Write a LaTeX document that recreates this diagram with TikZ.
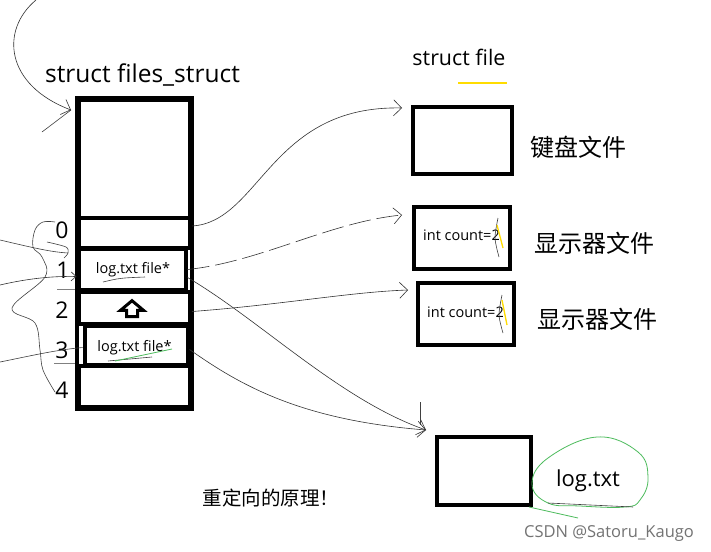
\documentclass[tikz,border=0pt]{standalone}
\usepackage{fontspec}
\setmainfont{Open Sans}
\newfontfamily\cjk{Noto Sans CJK SC}
\usepackage{tikz}
\usetikzlibrary{arrows.meta, shapes.arrows, positioning}
\tikzset{
    boxnode/.style = {draw, rectangle, line width=4pt, inner sep=0em, node distance=0em},
    textnode/.style = {draw=none, fill=none, rectangle, inner sep=0em, node distance=0em, anchor=base},
    cjknode/.style = {draw=none, fill=none, rectangle, inner sep=0em, node distance=0em,
      font=\cjk\fontsize{24}{28}\selectfont},
    idxnode/.style = {textnode, font=\fontsize{23}{26}\selectfont},
    smalltextnode/.style = {textnode, font=\fontsize{14.5}{17}\selectfont},
    connect/.style = {black!80, line width=0.6pt, -{Straight Barb[length=8pt, width=16pt]}},
    penline/.style = {black!75, line width=0.6pt},
    greenpen/.style = {pengreen, line width=0.8pt},
    yellowpen/.style = {penyellow, line width=1.3pt}
}
\definecolor{pengreen}{RGB}{76, 187, 92}
\definecolor{penyellow}{RGB}{255, 220, 0}

\begin{document}
\begin{tikzpicture}[x=1pt, y=-1pt]
\fill [white] (0,0) rectangle (711,551);
\useasboundingbox (0,0) rectangle (711,551);

\node [textnode, name=fstitle, font=\fontsize{24.5}{28}\selectfont] at (142.5,82) {struct files\_struct};
\node [boxnode, name=fsbox, minimum width=111pt, minimum height=118pt] at (134.5,159) {};
\node [boxnode, name=slot0, minimum width=111pt, minimum height=30pt, below of=fsbox, yshift=-74pt] {};
\node [boxnode, name=slot1, minimum width=107pt, minimum height=41pt, below of=fsbox, xshift=-2.5pt, yshift=-110.5pt] {};
\node [boxnode, name=slot2, minimum width=111pt, minimum height=32pt, below of=fsbox, yshift=-148.5pt] {};
\node [boxnode, name=slot3, minimum width=103pt, minimum height=39pt, below of=fsbox, xshift=1.5pt, yshift=-186.5pt] {};
\node [boxnode, name=slot4, minimum width=111pt, minimum height=41pt, below of=fsbox, yshift=-227.5pt] {};
\draw [line width=4pt] (fsbox.north west) rectangle (slot4.south east);

\node [idxnode, name=idx0] at (62,238) {0};
\node [idxnode, name=idx1] at (63,278) {1};
\node [idxnode, name=idx2] at (62,318) {2};
\node [idxnode, name=idx3] at (62,358) {3};
\node [idxnode, name=idx4] at (62,398) {4};

\node [smalltextnode, name=slot1txt] at (133,273) {log.txt file*};
\node [smalltextnode, name=slot3txt] at (134.5,351) {log.txt file*};
\node [name=uparrow, draw, line width=3pt, fill=white, single arrow, shape border rotate=90,
  minimum height=16pt, inner sep=4pt, single arrow head extend=6pt, single arrow tip angle=100] at (132,311) {};

\node [textnode, name=filetitle, font=\fontsize{21.4}{25}\selectfont] at (459,66) {struct file};
\draw [yellowpen] (458,83) -- (507,83);
\node [boxnode, name=kbd, minimum width=99pt, minimum height=67pt] at (462.5,140.5) {};
\node [boxnode, name=disp1, minimum width=96pt, minimum height=62pt, below of=kbd, xshift=-0.5pt, yshift=-97.5pt] {};
\node [boxnode, name=disp2, minimum width=96pt, minimum height=62pt, below of=disp1, xshift=4pt, yshift=-76pt] {};
\node [boxnode, name=logbox, minimum width=94pt, minimum height=68pt] at (484,471) {};

\node [smalltextnode, anchor=base west, name=count1] at (423,240) {int count=2};
\node [smalltextnode, anchor=base west, name=count2] at (427,317) {int count=2};
\node [cjknode, name=kbdlabel] at (578.5,147.5) {键盘文件};
\node [cjknode, name=displabel1] at (594,243.5) {显示器文件};
\node [cjknode, name=displabel2] at (597.5,319.5) {显示器文件};
\node [textnode, name=logtxt, font=\fontsize{22}{25}\selectfont] at (588,486) {log.txt};
\node [cjknode, name=note, font=\cjk\fontsize{19.5}{23}\selectfont] at (271,498) {重定向的原理！};
\node [textnode, name=mark, text=black!55, font=\fontsize{16.5}{19}\selectfont] at (609,537) {CSDN @Satoru\_Kaugo};

\coordinate (topstart) at (36,0);
\coordinate (lowbarb) at (42,132);
\coordinate (leftA) at (0,240);
\coordinate (leftAend) at (68,253);
\coordinate (leftB) at (0,285);
\coordinate (leftC) at (0,362);
\coordinate (logtick) at (420,402);

\draw [connect] (topstart) .. controls (0,30) and (5,85) .. ([xshift=-6pt, yshift=-12pt]fsbox.north west);
\draw [penline] (lowbarb) -- ([xshift=-6pt, yshift=-12pt]fsbox.north west);
\draw [connect] ([yshift=7pt]slot0.east) .. controls (260,222) and (270,105) .. ([xshift=-9pt, yshift=-3pt]kbd.north west);
\draw [connect, dash pattern=on 22pt off 6pt] (slot1.east) .. controls (260,262) and (330,222) .. ([xshift=-10pt, yshift=-10pt]disp1.north west);
\draw [connect] ([yshift=-4pt]slot2.east) .. controls (280,305) and (350,292) .. ([xshift=-8pt, yshift=-9pt]disp2.north west);
\draw [connect] ([yshift=-8pt]slot1.east) .. controls (260,320) and (340,400) .. ([xshift=-9pt, yshift=5pt]logbox.north west);
\draw [connect] ([yshift=-4pt]slot3.east) .. controls (240,385) and (300,420) .. ([xshift=-9pt, yshift=5pt]logbox.north west);
\draw [penline] (logtick) -- ++(0,23);

\draw [penline] (leftA) .. controls (30,247) and (50,252) .. (leftAend);
\draw [penline] plot [smooth] coordinates {(47,242) (66,247) (68,253) (64,258)};
\draw [connect, -{Straight Barb[length=5pt, width=9pt]}] (leftB) .. controls (30,278) and (55,276) .. ([yshift=-7pt]slot1.west);
\draw [penline] (leftC) .. controls (30,356) and (55,350) .. ([yshift=-2pt]slot3.west);
\draw [penline] plot [smooth, tension=0.6] coordinates {(55,222) (43,222) (35,230) (33,247) (42,257) (45,277) (12,308) (35,323) (40,350) (43,370) (55,392)};
\draw [penline, black!50] (57,289) -- (75,289);
\draw [penline, black!50] (54,363) -- (75,363);

\draw [penline] (103,282) .. controls (120,278) .. (145,277);
\draw [penline] (108,361) -- (152,357);
\draw [greenpen] (115,361) -- (172,349);

\draw [penline] plot [smooth] coordinates {(498,218) (495,238) (499,257)};
\draw [yellowpen] (497,225) -- (503,248);
\draw [penline] plot [smooth] coordinates {(502,295) (499,315) (503,333)};
\draw [yellowpen] (502,300) -- (507,325);

\draw [greenpen] plot [smooth cycle, tension=0.7] coordinates {(532,484) (548,458) (597,437) (638,452) (648,478) (640,500) (625,507) (580,506) (548,503)};
\draw [greenpen] (529,507) -- (578,518);
\draw [penline] (548,503) -- (633,507);
\end{tikzpicture}
\end{document}
